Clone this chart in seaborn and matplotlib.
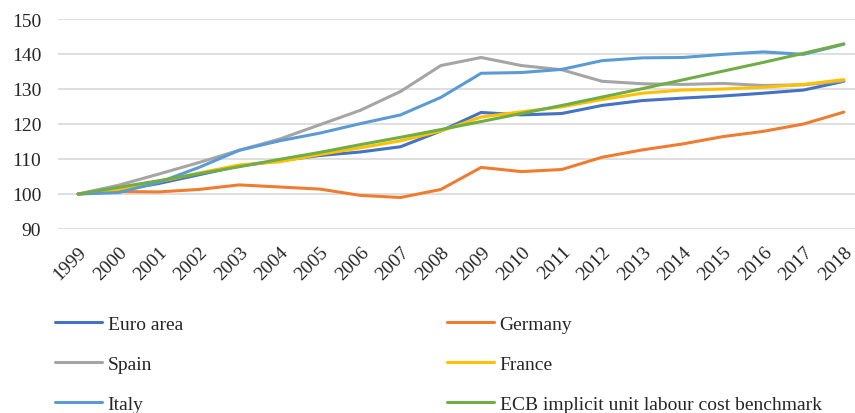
import numpy as np
import pandas as pd
import matplotlib
matplotlib.use("Agg")
import matplotlib.pyplot as plt
import seaborn as sns

# DATA
years = list(range(1999, 2019))
euro_area = [100, 101.0, 103.0, 105.5, 108.0, 109.5, 111.0, 112.0, 113.5, 118.0,
             123.3, 122.6, 123.0, 125.3, 126.7, 127.4, 128.0, 128.8, 129.7, 132.2]
germany = [100, 100.7, 100.6, 101.3, 102.6, 102.0, 101.4, 99.6, 99.0, 101.3,
           107.6, 106.4, 107.0, 110.5, 112.6, 114.3, 116.4, 117.9, 120.0, 123.4]
spain = [100, 102.5, 105.7, 109.0, 112.5, 115.7, 119.8, 123.9, 129.3, 136.7,
         139.0, 136.7, 135.5, 132.2, 131.5, 131.3, 131.6, 131.0, 131.2, 132.3]
france = [100, 101.3, 103.5, 106.0, 108.3, 109.2, 111.3, 113.2, 115.2, 118.0,
          122.0, 123.5, 124.9, 127.0, 128.8, 129.7, 130.0, 130.5, 131.3, 132.7]
italy = [100, 100.4, 103.3, 107.6, 112.5, 115.2, 117.4, 120.1, 122.6, 127.6,
         134.5, 134.7, 135.6, 138.1, 138.9, 139.0, 139.9, 140.6, 139.9, 142.8]
ecb_benchmark = [100, 101.9, 103.8, 105.8, 107.8, 109.9, 111.9, 114.1, 116.2, 118.4,
                 120.7, 123.0, 125.3, 127.7, 130.1, 132.6, 135.1, 137.6, 140.2, 142.9]

series = {
    "Euro area": euro_area,
    "Germany": germany,
    "Spain": spain,
    "France": france,
    "Italy": italy,
    "ECB implicit unit labour cost benchmark": ecb_benchmark,
}
colors = ["#4472C4", "#ED7D31", "#A5A5A5", "#FFC000", "#5B9BD5", "#70AD47"]

rows = []
for name, vals in series.items():
    for y, v in zip(years, vals):
        rows.append({"year": y, "value": v, "series": name})
df = pd.DataFrame(rows)

sns.set_style("white")
plt.rcParams["font.family"] = ["Liberation Serif", "DejaVu Serif"]

fig = plt.figure(figsize=(8.55, 4.14), dpi=100)
ax = fig.add_axes([58 / 855, 1 - 230 / 414, (864 - 58) / 855, 210 / 414])

sns.lineplot(data=df, x="year", y="value", hue="series", palette=colors,
             linewidth=2.2, ax=ax, legend=False)

ax.set_xlim(1998.5, 2018.5)
ax.set_ylim(90, 150)
ax.set_yticks(range(90, 151, 10))
ax.set_xticks(years)
ax.set_xticklabels([str(y) for y in years], rotation=45, ha="right", va="top",
                   rotation_mode="anchor")
ax.tick_params(axis="both", labelsize=14, length=0, colors="#262626")
ax.tick_params(axis="y", pad=12)
ax.tick_params(axis="x", pad=10)
ax.yaxis.grid(True, color="#D9D9D9", linewidth=1.2)
ax.set_axisbelow(True)
ax.set_xlabel("")
ax.set_ylabel("")
for s in ax.spines.values():
    s.set_visible(False)

# legend, column-wise order
names = list(series.keys())
order = [0, 2, 4, 1, 3, 5]
handles = [plt.Line2D([], [], color=colors[i], linewidth=2.2) for i in order]
labels = [names[i] for i in order]
fig.legend(handles, labels, ncol=2, loc="upper left",
           bbox_to_anchor=(55 / 855, 1 - 316 / 414), frameon=False,
           fontsize=14, handlelength=2.4, handletextpad=0.3,
           columnspacing=13.6, labelspacing=1.15, borderpad=0, borderaxespad=0)

fig.savefig("out.png", dpi=100)
